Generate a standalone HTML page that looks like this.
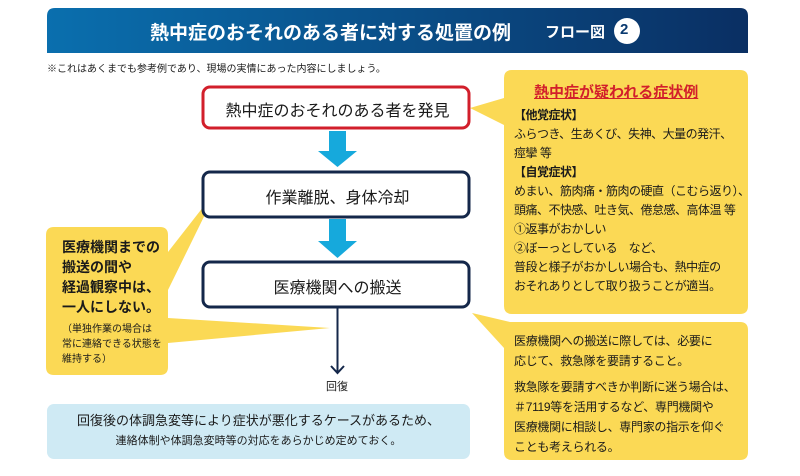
<!DOCTYPE html>
<html><head><meta charset="utf-8"><style>
body{margin:0;width:800px;height:476px;background:#fff;overflow:hidden;font-family:"Liberation Sans","Noto Sans CJK JP",sans-serif;}
svg{position:absolute;left:0;top:0}
.t{position:absolute;white-space:nowrap;color:#1a1a1a}
</style></head><body>
<svg width="800" height="476">
<defs><linearGradient id="g" x1="0" x2="1"><stop offset="0" stop-color="#0a6fae"/><stop offset="1" stop-color="#0a2f63"/></linearGradient></defs>
<path d="M47 16 Q47 8 55 8 L740 8 Q748 8 748 16 L748 53 L47 53 Z" fill="url(#g)"/>
<circle cx="627" cy="31" r="13" fill="#fff"/>
<path d="M512 70 H740 Q748 70 748 78 V306 Q748 314 740 314 H512 Q504 314 504 306 V125 L470 108 L504 98 V78 Q504 70 512 70Z" fill="#fbd955"/>
<path d="M512 322 H740 Q748 322 748 330 V452 Q748 460 740 460 H512 Q504 460 504 452 V348 L472 313 L510 322Z" fill="#fbd955"/>
<path d="M54 227 H160 Q168 227 168 235 V252 L218 188 L168 290 V318 L330 328 L168 343 V367 Q168 375 160 375 H54 Q46 375 46 367 V235 Q46 227 54 227Z" fill="#fbd955"/>
<rect x="47" y="404" width="423" height="55" rx="7" fill="#cfeaf4"/>
<rect x="203" y="87" width="266" height="41" rx="7" fill="#fff" stroke="#d21f2b" stroke-width="3"/>
<rect x="203" y="172" width="266" height="45" rx="7" fill="#fff" stroke="#14274a" stroke-width="3"/>
<rect x="203" y="262" width="266" height="45" rx="7" fill="#fff" stroke="#14274a" stroke-width="3"/>
<path d="M329 131 H346 V151 H357 L337.5 167 L318 151 H329Z" fill="#16a9dc"/>
<path d="M329 219 H346 V241 H357 L337.5 258 L318 241 H329Z" fill="#16a9dc"/>
<line x1="337.5" y1="308" x2="337.5" y2="373" stroke="#14274a" stroke-width="2"/>
<path d="M331 366 L337.5 373 L344 366" fill="none" stroke="#14274a" stroke-width="2"/>
</svg>
<div class="t" style="left:150px;top:18px;font-size:19px;font-weight:bold;color:#fff">熱中症のおそれのある者に対する処置の例</div>
<div class="t" style="left:545px;top:21px;font-size:15px;font-weight:bold;color:#fff">フロー図</div>
<div class="t" style="left:620px;top:21px;font-size:15px;font-weight:bold;color:#0a3a70">2</div>
<div class="t" style="left:47px;top:60px;font-size:10px">※これはあくまでも参考例であり、現場の実情にあった内容にしましょう。</div>
<div class="t" style="left:203px;top:97px;width:269px;text-align:center;font-size:16px">熱中症のおそれのある者を発見</div>
<div class="t" style="left:203px;top:184px;width:269px;text-align:center;font-size:16px">作業離脱、身体冷却</div>
<div class="t" style="left:203px;top:274px;width:269px;text-align:center;font-size:16px">医療機関への搬送</div>
<div class="t" style="left:326px;top:378px;font-size:11px">回復</div>
<div class="t" style="left:62px;top:237px;font-size:14px;font-weight:bold;line-height:20px">医療機関までの<br>搬送の間や<br>経過観察中は、<br>一人にしない。</div>
<div class="t" style="left:62px;top:322px;font-size:10px;line-height:15px">（単独作業の場合は<br>常に連絡できる状態を<br>維持する）</div>
<div class="t" style="left:534px;top:81px;font-size:15px;font-weight:bold;color:#d21f2b;text-decoration:underline">熱中症が疑われる症状例</div>
<div class="t" style="left:514px;top:106px;font-size:12px;line-height:19px;letter-spacing:-0.5px"><b>【他覚症状】</b><br>ふらつき、生あくび、失神、大量の発汗、<br>痙攣 等<br><b>【自覚症状】</b><br>めまい、筋肉痛・筋肉の硬直（こむら返り）、<br>頭痛、不快感、吐き気、倦怠感、高体温 等<br>①返事がおかしい<br>②ぼーっとしている　など、<br>普段と様子がおかしい場合も、熱中症の<br>おそれありとして取り扱うことが適当。</div>
<div class="t" style="left:514px;top:331px;font-size:12px;line-height:20px;letter-spacing:-0.3px">医療機関への搬送に際しては、必要に<br>応じて、救急隊を要請すること。</div>
<div class="t" style="left:514px;top:377px;font-size:12px;line-height:20px;letter-spacing:-0.3px">救急隊を要請すべきか判断に迷う場合は、<br>＃7119等を活用するなど、専門機関や<br>医療機関に相談し、専門家の指示を仰ぐ<br>ことも考えられる。</div>
<div class="t" style="left:47px;top:410px;width:423px;text-align:center;font-size:13px">回復後の体調急変等により症状が悪化するケースがあるため、</div>
<div class="t" style="left:47px;top:432px;width:423px;text-align:center;font-size:11px">連絡体制や体調急変時等の対応をあらかじめ定めておく。</div>
</body></html>
